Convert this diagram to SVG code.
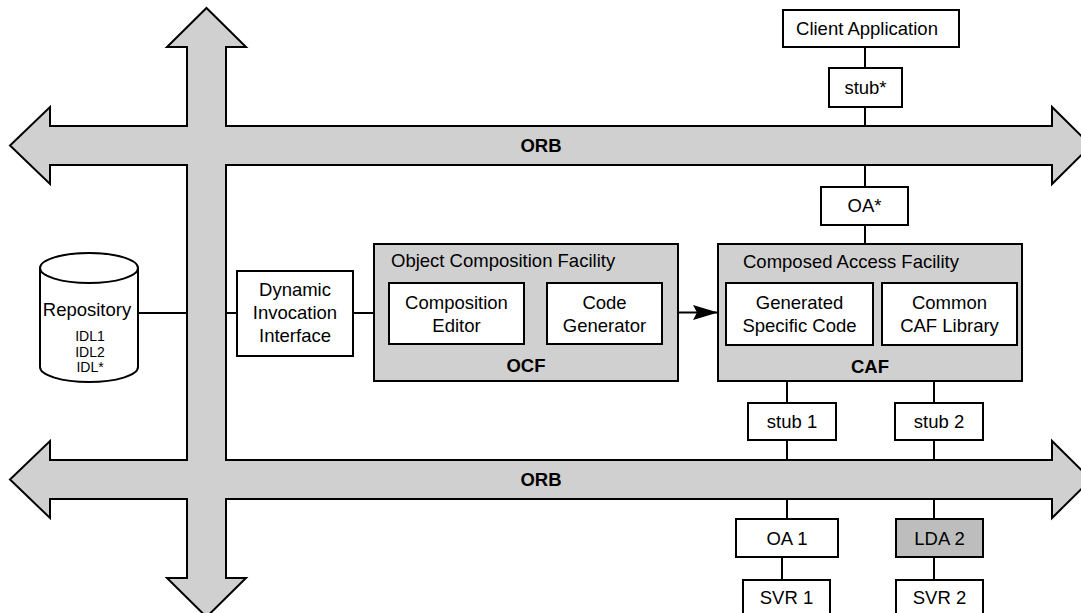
<svg xmlns="http://www.w3.org/2000/svg" width="1081" height="613" viewBox="0 0 1081 613">
<defs>
<style>
.bg{fill:#ffffff}
.orb{fill:#d0d0d0;stroke:#000;stroke-width:2;stroke-linejoin:miter}
.box{fill:#ffffff;stroke:#000;stroke-width:2}
.gbox{fill:#d0d0d0;stroke:#000;stroke-width:2}
.dbox{fill:#bdbdbd;stroke:#000;stroke-width:2}
.ln{stroke:#000;stroke-width:2;fill:none}
text{font-family:"Liberation Sans",Arial,Helvetica,sans-serif;font-size:18.5px;fill:#000}
.c{text-anchor:middle}
.b{font-weight:bold}
.s{font-size:14px}
</style>
<marker id="ah" markerWidth="25" markerHeight="16" refX="25" refY="7.5" orient="auto" markerUnits="userSpaceOnUse">
<path d="M0,0 L25,7.5 L0,15 L4,7.5 Z" fill="#000"/>
</marker>
</defs>
<rect class="bg" x="0" y="0" width="1081" height="613"/>

<g id="orb-bus">
<path class="orb" d="M206.5,8 L246,47 L226,47 L226,126 L1052,126 L1052,107 L1091,145.5 L1052,184 L1052,165 L226,165 L226,460 L1052,460 L1052,441 L1091,479.5 L1052,518 L1052,499 L226,499 L226,578 L246,578 L206.5,617 L167,578 L187,578 L187,499 L50,499 L50,518 L10,479.5 L50,441 L50,460 L187,460 L187,165 L50,165 L50,184 L10,145.5 L50,107 L50,126 L187,126 L187,47 L167,47 Z"/>
<text class="c b" x="541" y="152">ORB</text>
<text class="c b" x="541" y="486">ORB</text>
</g>

<g id="connectors">
<line class="ln" x1="865" y1="47" x2="865" y2="68"/>
<line class="ln" x1="865" y1="107" x2="865" y2="126"/>
<line class="ln" x1="865" y1="165" x2="865" y2="187"/>
<line class="ln" x1="865" y1="225" x2="865" y2="244"/>
<line class="ln" x1="138" y1="313" x2="187" y2="313"/>
<line class="ln" x1="226" y1="313" x2="237" y2="313"/>
<line class="ln" x1="353" y1="313" x2="374" y2="313"/>
<line class="ln" x1="678" y1="312.5" x2="718" y2="312.5" marker-end="url(#ah)"/>
<line class="ln" x1="787" y1="381" x2="787" y2="403"/>
<line class="ln" x1="934" y1="381" x2="934" y2="403"/>
<line class="ln" x1="787" y1="440" x2="787" y2="460"/>
<line class="ln" x1="934" y1="440" x2="934" y2="460"/>
<line class="ln" x1="787" y1="499" x2="787" y2="519"/>
<line class="ln" x1="934" y1="499" x2="934" y2="519"/>
<line class="ln" x1="782" y1="557" x2="782" y2="580"/>
<line class="ln" x1="934" y1="557" x2="934" y2="580"/>
</g>

<g id="client-application">
<rect class="box" x="783" y="10" width="176" height="37"/>
<text class="c" x="867" y="34.5">Client Application</text>
</g>

<g id="stub-star">
<rect class="box" x="829" y="68" width="73" height="39"/>
<text class="c" x="865.5" y="94">stub*</text>
</g>

<g id="oa-star">
<rect class="box" x="821" y="187" width="87" height="38"/>
<text class="c" x="864.5" y="212">OA*</text>
</g>

<g id="repository">
<path class="box" d="M40,268 L40,367 A49,15 0 0 0 138,367 L138,268"/>
<ellipse class="box" cx="89" cy="268" rx="49" ry="15"/>
<text class="c" x="87" y="316">Repository</text>
<text class="c s" x="90" y="341">IDL1</text>
<text class="c s" x="90" y="356.5">IDL2</text>
<text class="c s" x="90" y="371.5">IDL*</text>
</g>

<g id="dii">
<rect class="box" x="237" y="271" width="116" height="85"/>
<text class="c" x="295" y="296">Dynamic</text>
<text class="c" x="295" y="319">Invocation</text>
<text class="c" x="295" y="342">Interface</text>
</g>

<g id="ocf">
<rect class="gbox" x="374" y="244" width="304" height="137"/>
<text x="391" y="267">Object Composition Facility</text>
<rect class="box" x="389" y="283" width="135" height="61"/>
<text class="c" x="456.5" y="309">Composition</text>
<text class="c" x="456.5" y="332">Editor</text>
<rect class="box" x="547" y="283" width="115" height="61"/>
<text class="c" x="604.5" y="309">Code</text>
<text class="c" x="604.5" y="332">Generator</text>
<text class="c b" x="526" y="372">OCF</text>
</g>

<g id="caf">
<rect class="gbox" x="718" y="244" width="304" height="137"/>
<text x="743" y="268">Composed Access Facility</text>
<rect class="box" x="726" y="283" width="147" height="62"/>
<text class="c" x="799.5" y="309">Generated</text>
<text class="c" x="799.5" y="332">Specific Code</text>
<rect class="box" x="882" y="283" width="135" height="62"/>
<text class="c" x="949.5" y="309">Common</text>
<text class="c" x="949.5" y="332">CAF Library</text>
<text class="c b" x="870" y="373">CAF</text>
</g>

<g id="stub-1">
<rect class="box" x="748" y="403" width="88" height="37"/>
<text class="c" x="792" y="428">stub 1</text>
</g>

<g id="stub-2">
<rect class="box" x="895" y="403" width="88" height="37"/>
<text class="c" x="939" y="428">stub 2</text>
</g>

<g id="oa-1">
<rect class="box" x="736" y="519" width="102" height="38"/>
<text class="c" x="787" y="545">OA 1</text>
</g>

<g id="lda-2">
<rect class="dbox" x="896" y="519" width="87" height="38"/>
<text class="c" x="939.5" y="545">LDA 2</text>
</g>

<g id="svr-1">
<rect class="box" x="743" y="580" width="87" height="38"/>
<text class="c" x="786.5" y="604">SVR 1</text>
</g>

<g id="svr-2">
<rect class="box" x="896" y="580" width="87" height="38"/>
<text class="c" x="939.5" y="604">SVR 2</text>
</g>
</svg>
